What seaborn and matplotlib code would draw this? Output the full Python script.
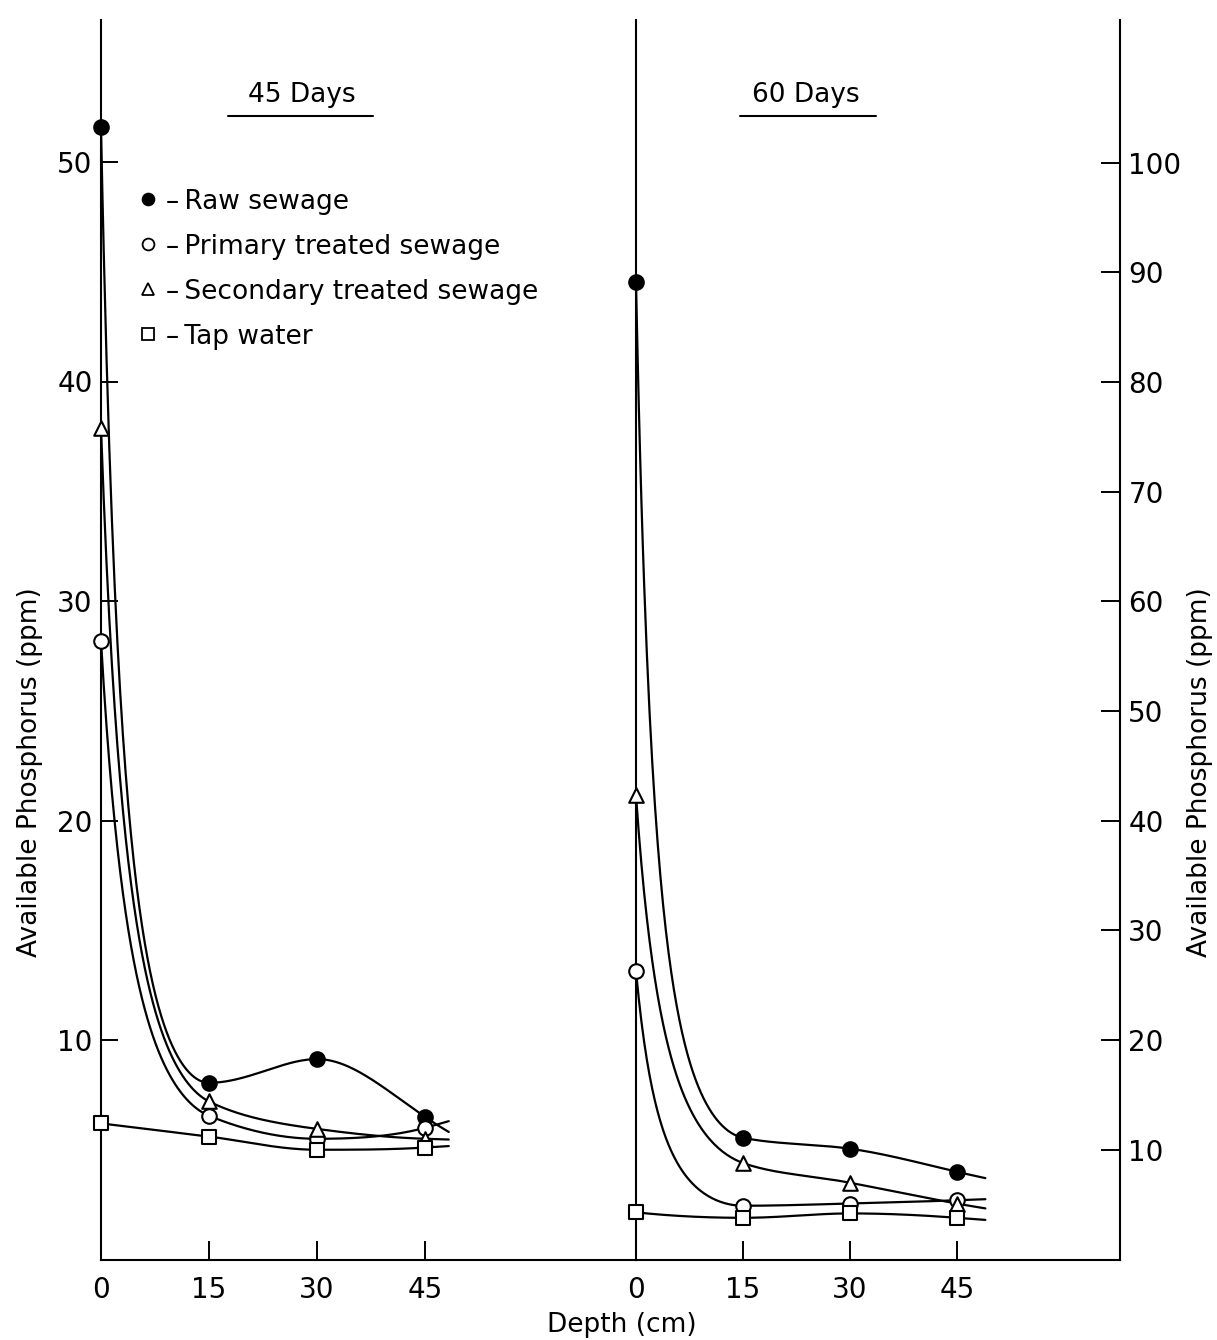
import numpy as np
import pandas as pd
import matplotlib
matplotlib.use('Agg')
import matplotlib.pyplot as plt
import seaborn as sns
from matplotlib.lines import Line2D

sns.set_style('ticks')
plt.rcParams['font.family'] = ['DejaVu Sans']
plt.rcParams['text.color'] = 'black'
plt.rcParams['xtick.color'] = 'black'
plt.rcParams['ytick.color'] = 'black'
plt.rcParams['axes.edgecolor'] = 'black'

# depth (cm) and available phosphorus (ppm)
depth = [0, 15, 30, 45]
series = ['Raw sewage', 'Primary treated sewage', 'Secondary treated sewage', 'Tap water']

d45_raw = [51.6, 8.05, 9.13, 6.5]
d45_primary = [28.2, 6.55, 5.5, 6.0]
d45_secondary = [37.9, 7.2, 5.95, 5.5]
d45_tap = [6.2, 5.6, 5.0, 5.1]

d60_raw = [89.1, 11.1, 10.1, 8.0]
d60_primary = [26.3, 4.9, 5.1, 5.4]
d60_secondary = [42.3, 8.8, 7.0, 5.1]
d60_tap = [4.3, 3.8, 4.2, 3.8]

left_ticks = [10, 20, 30, 40, 50]
right_ticks = [10, 20, 30, 40, 50, 60, 70, 80, 90, 100]

markers = {'Raw sewage': ('o', 'black'), 'Primary treated sewage': ('o', 'white'),
           'Secondary treated sewage': ('^', 'white'), 'Tap water': ('s', 'white')}


def pchip_slopes(x, z):
    h = np.diff(x)
    d = np.diff(z) / h
    m = np.zeros(len(x))
    for k in range(1, len(x) - 1):
        if d[k - 1] * d[k] > 0:
            w1 = 2 * h[k] + h[k - 1]
            w2 = h[k] + 2 * h[k - 1]
            m[k] = (w1 + w2) / (w1 / d[k - 1] + w2 / d[k])

    def end(h0, h1, d0, d1):
        mm = ((2 * h0 + h1) * d0 - h0 * d1) / (h0 + h1)
        if np.sign(mm) != np.sign(d0):
            mm = 0.0
        elif np.sign(d0) != np.sign(d1) and abs(mm) > 3 * abs(d0):
            mm = 3 * d0
        return mm
    m[0] = end(h[0], h[1], d[0], d[1])
    m[-1] = end(h[-1], h[-2], d[-1], d[-2])
    return m


def smooth(x, y, x_end, n=80):
    # hand-drawn style smooth curve through the points (done in y^-1/2 space)
    x = np.asarray(x, float)
    z = np.asarray(y, float) ** -0.5
    m = pchip_slopes(x, z)
    xs, zs = [], []
    t = np.linspace(0, 1, n)
    for k in range(len(x) - 1):
        h = x[k + 1] - x[k]
        h00 = 2 * t**3 - 3 * t**2 + 1
        h10 = t**3 - 2 * t**2 + t
        h01 = -2 * t**3 + 3 * t**2
        h11 = t**3 - t**2
        zs.append(h00 * z[k] + h10 * h * m[k] + h01 * z[k + 1] + h11 * h * m[k + 1])
        xs.append(x[k] + t * h)
    tail = np.linspace(x[-1], x_end, 12)
    xs.append(tail)
    zs.append(z[-1] + m[-1] * (tail - x[-1]))
    return np.concatenate(xs), np.concatenate(zs) ** -2


W, H = 1217, 1340
fig = plt.figure(figsize=(W / 100, H / 100), dpi=100)
ybot, ytop = 1259.5, 20
ax1 = fig.add_axes([101 / W, (H - ybot) / H, 535 / W, (ybot - ytop) / H])
ax2 = fig.add_axes([636 / W, (H - ybot) / H, 484 / W, (ybot - ytop) / H])

panels = [(ax1, [d45_raw, d45_primary, d45_secondary, d45_tap], 48.3),
          (ax2, [d60_raw, d60_primary, d60_secondary, d60_tap], 49.0)]

for ax, vals, x_end in panels:
    for name, v in zip(series, vals):
        xs, ys = smooth(depth, v, x_end)
        sns.lineplot(x=xs, y=ys, ax=ax, color='black', lw=1.6, sort=False,
                     estimator=None, legend=False, zorder=2)
        mk, fc = markers[name]
        df = pd.DataFrame({'depth': depth, 'P': v})
        sns.scatterplot(data=df, x='depth', y='P', ax=ax, marker=mk, s=110,
                        color=fc, edgecolor='black', linewidth=1.5, zorder=4,
                        legend=False, clip_on=False)

ax1.set_xlim(0, 535 / 7.2)
ax1.set_ylim(0, (ybot - ytop) / 21.95)
ax2.set_xlim(0, 484 / 7.13)
ax2.set_ylim(0, (ybot - ytop) / 10.97)

for ax in (ax1, ax2):
    ax.set_xticks(depth)
    ax.set_xlabel('')
    ax.set_ylabel('')
    ax.spines['top'].set_visible(False)
    for s in ax.spines.values():
        s.set_linewidth(1.5)
    ax.tick_params(axis='x', direction='in', length=14, width=1.4, pad=12,
                   labelsize=20)

ax1.spines['right'].set_visible(False)
ax1.set_yticks(left_ticks)
ax1.tick_params(axis='y', direction='in', length=12, width=1.4, pad=6, labelsize=20)

ax2.set_yticks(right_ticks)
ax2.yaxis.tick_right()
ax2.tick_params(axis='y', left=False, right=True, labelleft=False, labelright=True,
                direction='in', length=14, width=1.4, pad=6, labelsize=20)

# legend
handles = [Line2D([], [], marker=markers[n][0], ls='none', mfc=markers[n][1],
                  mec='black', ms=8.5, mew=1.3) for n in series]
labels = ['\u2013\u2009' + n for n in series]
ax1.legend(handles, labels, loc='upper left', bbox_to_anchor=(0.068, 0.864),
           frameon=False, fontsize=19, handlelength=0.8, handletextpad=0.3,
           labelspacing=0.72, borderpad=0, borderaxespad=0)

# titles with underline
fig.text(302 / W, 1 - 95 / H, '45 Days', ha='center', va='center', fontsize=19)
fig.text(806 / W, 1 - 95 / H, '60 Days', ha='center', va='center', fontsize=19)
fig.add_artist(Line2D([228 / W, 373 / W], [1 - 116 / H] * 2, color='black', lw=1.5))
fig.add_artist(Line2D([740 / W, 876 / W], [1 - 116 / H] * 2, color='black', lw=1.5))

fig.text(30 / W, 1 - 772 / H, 'Available Phosphorus (ppm)', rotation=90,
         ha='center', va='center', fontsize=19)
fig.text(1200 / W, 1 - 772 / H, 'Available Phosphorus (ppm)', rotation=90,
         ha='center', va='center', fontsize=19)
fig.text(622 / W, 1 - 1325 / H, 'Depth (cm)', ha='center', va='center', fontsize=19)

fig.savefig('out.png', dpi=100, facecolor='white')
